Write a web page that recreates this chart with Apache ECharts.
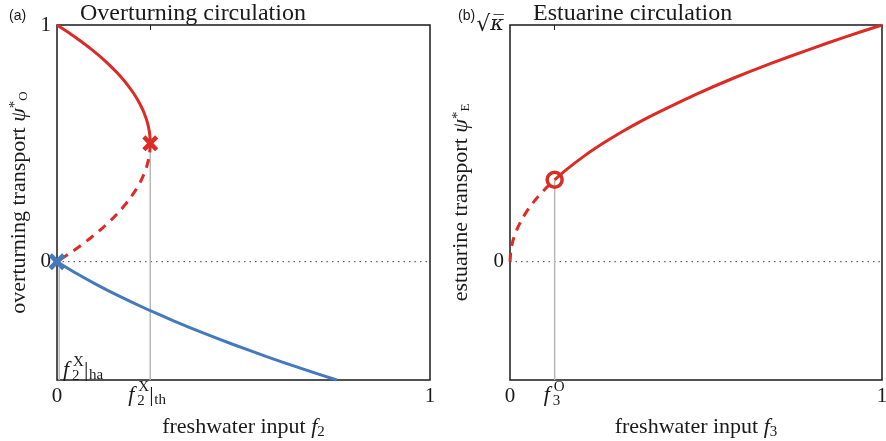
<!DOCTYPE html>
<html><head><meta charset="utf-8">
<script src="https://cdn.jsdelivr.net/npm/echarts@6/dist/echarts.min.js"></script>
<style>html,body{margin:0;padding:0;background:#fff}#c{width:886px;height:441px}</style>
</head><body><div id="c"></div>
<script>
// ---- data ----
// (a) overturning circulation: stable ON branch (solid red)
const onStableF   = [0, 0.0196, 0.0384, 0.0564, 0.0736, 0.09, 0.1056, 0.1204, 0.1344, 0.1476, 0.16, 0.1716, 0.1824, 0.1924, 0.2016, 0.21, 0.2176, 0.2244, 0.2304, 0.2356, 0.24, 0.2436, 0.2464, 0.2484, 0.2496, 0.25];
const onStablePsi = [1, 0.98, 0.96, 0.94, 0.92, 0.9, 0.88, 0.86, 0.84, 0.82, 0.8, 0.78, 0.76, 0.74, 0.72, 0.7, 0.68, 0.66, 0.64, 0.62, 0.6, 0.58, 0.56, 0.54, 0.52, 0.5];
// unstable branch (dashed red)
const onUnstableF   = [0.25, 0.2496, 0.2484, 0.2464, 0.2436, 0.24, 0.2331, 0.2244, 0.21, 0.1924, 0.1716, 0.1476, 0.1204, 0.09, 0.0564, 0.0291, 0];
const onUnstablePsi = [0.5, 0.48, 0.46, 0.44, 0.42, 0.4, 0.37, 0.34, 0.3, 0.26, 0.22, 0.18, 0.14, 0.1, 0.06, 0.03, 0];
// OFF branch (solid blue)
const offF   = [0, 0.0525, 0.11, 0.1725, 0.24, 0.3125, 0.39, 0.4725, 0.56, 0.6525, 0.75];
const offPsi = [0, -0.05, -0.1, -0.15, -0.2, -0.25, -0.3, -0.35, -0.4, -0.45, -0.5];
// bifurcation points
const foldTh = [0.25, 0.5];
const foldHa = [0.006, 0];
// (b) estuarine circulation
const estDashF   = [0, 0.003, 0.01, 0.02, 0.035, 0.05, 0.07, 0.095, 0.12];
const estDashPsi = [0, 0.055, 0.1, 0.141, 0.187, 0.224, 0.265, 0.308, 0.346];
const estSolidF   = [0.12, 0.15, 0.2, 0.25, 0.3, 0.35, 0.4, 0.5, 0.6, 0.7, 0.8, 0.9, 1];
const estSolidPsi = [0.346, 0.387, 0.447, 0.5, 0.548, 0.592, 0.632, 0.707, 0.775, 0.837, 0.894, 0.949, 1];
const onsetO = [0.12, 0.346];
// axis tick labels
const xTickValues = [0, 1];
const yTickValues = [0, 1];
const yTopLabelA = '1';
const yTopLabelB = '{r|√}{k|κ̅}';

// ---- styling ----
const SERIF = '"Liberation Serif", "DejaVu Serif", serif';
const RED = '#dc2a25';
const BLUE = '#4479bd';
const GRAY = '#b8b8b8';
const INK = '#1a1a1a';
const XPATH = 'path://M0,2 L2,0 L5,3 L8,0 L10,2 L7,5 L10,8 L8,10 L5,7 L2,10 L0,8 L3,5 Z';

const zip = (a, b) => a.map((v, i) => [v, b[i]]);

const chart = echarts.init(document.getElementById('c'), null, {renderer: 'canvas'});

function xBottom(grid, nameRich) {
  return {
    gridIndex: grid, type: 'value', min: 0, max: 1, position: 'bottom',
    axisLine: {show: false}, splitLine: {show: false}, axisTick: {show: false},
    axisLabel: {customValues: xTickValues, fontFamily: SERIF, fontSize: 21, color: INK, margin: 6},
    name: nameRich, nameLocation: 'middle', nameGap: 34,
    nameTextStyle: {
      color: INK, fontFamily: SERIF, fontSize: 22,
      rich: {
        t: {fontFamily: SERIF, fontSize: 22, color: INK, lineHeight: 26},
        i: {fontFamily: SERIF, fontSize: 22, fontStyle: 'italic', color: INK, lineHeight: 26},
        sub: {fontFamily: SERIF, fontSize: 15, color: INK, verticalAlign: 'bottom', lineHeight: 15}
      }
    }
  };
}
function xTop(grid, tickVal) {
  return {
    gridIndex: grid, type: 'value', min: 0, max: 1, position: 'top',
    axisLine: {show: false}, splitLine: {show: false}, axisLabel: {show: false},
    axisTick: {show: true, inside: true, length: 5, customValues: [tickVal], lineStyle: {color: INK, width: 1}}
  };
}
function yLeft(grid, topLabel, nameRich) {
  return {
    gridIndex: grid, type: 'value', min: -0.5, max: 1,
    axisLine: {show: false}, splitLine: {show: false}, axisTick: {show: false},
    axisLabel: {
      customValues: yTickValues, fontFamily: SERIF, fontSize: 21, color: INK, margin: 6,
      formatter: v => (v === 1 ? topLabel : '0'),
      rich: {
        r: {fontFamily: '"DejaVu Serif", serif', fontSize: 22, color: INK},
        k: {fontFamily: '"DejaVu Serif", serif', fontSize: 21, fontStyle: 'italic', color: INK}
      }
    },
    name: nameRich, nameLocation: 'middle', nameRotate: 90, nameGap: 27,
    nameTextStyle: {
      color: INK, fontFamily: SERIF, fontSize: 22,
      rich: {
        t: {fontFamily: SERIF, fontSize: 22, color: INK, lineHeight: 22},
        i: {fontFamily: SERIF, fontSize: 22, fontStyle: 'italic', color: INK, lineHeight: 22},
        sup: {fontFamily: SERIF, fontSize: 15, color: INK, verticalAlign: 'top', lineHeight: 15},
        sub: {fontFamily: SERIF, fontSize: 13, color: INK, verticalAlign: 'bottom', lineHeight: 12}
      }
    }
  };
}

function line(xi, yi, data, color, dashed, z, width) {
  return {
    type: 'line', xAxisIndex: xi, yAxisIndex: yi, data: data, showSymbol: false, symbol: 'none',
    smooth: 0.2, z: z, silent: true, animation: false, clip: true,
    lineStyle: {color: color, width: width || 3, type: dashed ? [9, 7] : 'solid', cap: 'butt'}
  };
}
function guide(xi, yi, data) {
  return {type: 'line', xAxisIndex: xi, yAxisIndex: yi, data: data, symbol: 'none', z: 1, silent: true, animation: false,
    lineStyle: {color: GRAY, width: 1.5}};
}
function zeroLine(xi, yi) {
  return {type: 'line', xAxisIndex: xi, yAxisIndex: yi, data: [[0, 0], [1, 0]], symbol: 'none', z: 1, silent: true, animation: false,
    lineStyle: {color: '#444', width: 1, type: [1.5, 4]}};
}

const option = {
  backgroundColor: '#fff',
  animation: false,
  title: [
    {text: 'Overturning circulation', left: 75, top: -3, textStyle: {fontFamily: SERIF, fontSize: 24, fontWeight: 'normal', color: INK}},
    {text: 'Estuarine circulation', left: 528, top: -3, textStyle: {fontFamily: SERIF, fontSize: 24, fontWeight: 'normal', color: INK}},
    {text: '(a)', left: 4, top: 4, textStyle: {fontFamily: '"Liberation Sans", Arial, sans-serif', fontSize: 14, fontWeight: 'normal', color: INK}},
    {text: '(b)', left: 453, top: 4, textStyle: {fontFamily: '"Liberation Sans", Arial, sans-serif', fontSize: 14, fontWeight: 'normal', color: INK}}
  ],
  grid: [
    {left: 57, top: 25, width: 373, height: 355, show: true, borderColor: INK, borderWidth: 1.5, backgroundColor: 'transparent', outerBoundsMode: 'none', containLabel: false},
    {left: 510, top: 25, width: 372, height: 355, show: true, borderColor: INK, borderWidth: 1.5, backgroundColor: 'transparent', outerBoundsMode: 'none', containLabel: false}
  ],
  xAxis: [
    xBottom(0, '{t|freshwater input }{i|f}{sub|2}'),
    xTop(0, foldTh[0]),
    xBottom(1, '{t|freshwater input }{i|f}{sub|3}'),
    xTop(1, onsetO[0])
  ],
  yAxis: [
    yLeft(0, yTopLabelA, '{t|overturning transport }{i|ψ}{sup|*}{sub|O}'),
    yLeft(1, yTopLabelB, '{t|estuarine transport }{i|ψ}{sup|*}{sub|E}')
  ],
  series: [
    zeroLine(0, 0),
    guide(0, 0, [[foldTh[0], -0.5], foldTh]),
    guide(0, 0, [[foldHa[0], -0.5], foldHa]),
    line(0, 0, zip(onStableF, onStablePsi), RED, false, 3),
    line(0, 0, zip(onUnstableF, onUnstablePsi), RED, true, 3),
    line(0, 0, zip(offF, offPsi), BLUE, false, 3),
    {type: 'scatter', xAxisIndex: 0, yAxisIndex: 0, data: [foldTh], symbol: XPATH, symbolSize: 16, z: 5, silent: true,
      itemStyle: {color: RED, opacity: 1}},
    {type: 'scatter', xAxisIndex: 0, yAxisIndex: 0, data: [[0, 0]], symbol: XPATH, symbolSize: 17, z: 5, silent: true,
      itemStyle: {color: BLUE, opacity: 1}},

    zeroLine(2, 1),
    guide(2, 1, [[onsetO[0], -0.5], onsetO]),
    line(2, 1, zip(estDashF, estDashPsi), RED, true, 3),
    line(2, 1, zip(estSolidF, estSolidPsi), RED, false, 3),
    {type: 'scatter', xAxisIndex: 2, yAxisIndex: 1, data: [onsetO], symbol: 'circle', symbolSize: 15, z: 5, silent: true,
      itemStyle: {color: 'rgba(255,255,255,0)', borderColor: RED, borderWidth: 3.5, opacity: 1}}
  ]
};
chart.setOption(option);

// annotation labels f_i^X|_.. placed from axis coordinates
function fLabel(left, top, sub, sup, tail) {
  const base = {fontFamily: SERIF, fill: INK, verticalAlign: 'middle', align: 'left'};
  const els = [
    {type: 'text', style: Object.assign({}, base, {text: 'f', x: left, y: top + 14, fontSize: 22, fontStyle: 'italic'})},
    {type: 'text', style: Object.assign({}, base, {text: sup, x: left + 10, y: top + 6, fontSize: 15})},
    {type: 'text', style: Object.assign({}, base, {text: sub, x: left + 9, y: top + 20, fontSize: 15})}
  ];
  if (tail) {
    els.push({type: 'text', style: Object.assign({}, base, {text: '|', x: left + 21, y: top + 14, fontSize: 22})});
    els.push({type: 'text', style: Object.assign({}, base, {text: tail, x: left + 26, y: top + 19, fontSize: 15})});
  }
  return els;
}
const pTh = chart.convertToPixel({xAxisIndex: 0, yAxisIndex: 0}, [foldTh[0], -0.5]);
const pHa = chart.convertToPixel({xAxisIndex: 0, yAxisIndex: 0}, [0, -0.5]);
const pO  = chart.convertToPixel({xAxisIndex: 2, yAxisIndex: 1}, [onsetO[0], -0.5]);
chart.setOption({
  graphic: [].concat(
    fLabel(pTh[0] - 22, pTh[1] + 1, '2', 'X', 'th'),
    fLabel(pHa[0] + 6, pHa[1] - 24, '2', 'X', 'ha'),
    fLabel(pO[0] - 11, pO[1] + 1, '3', 'O', null)
  )
});
</script>
</body></html>
